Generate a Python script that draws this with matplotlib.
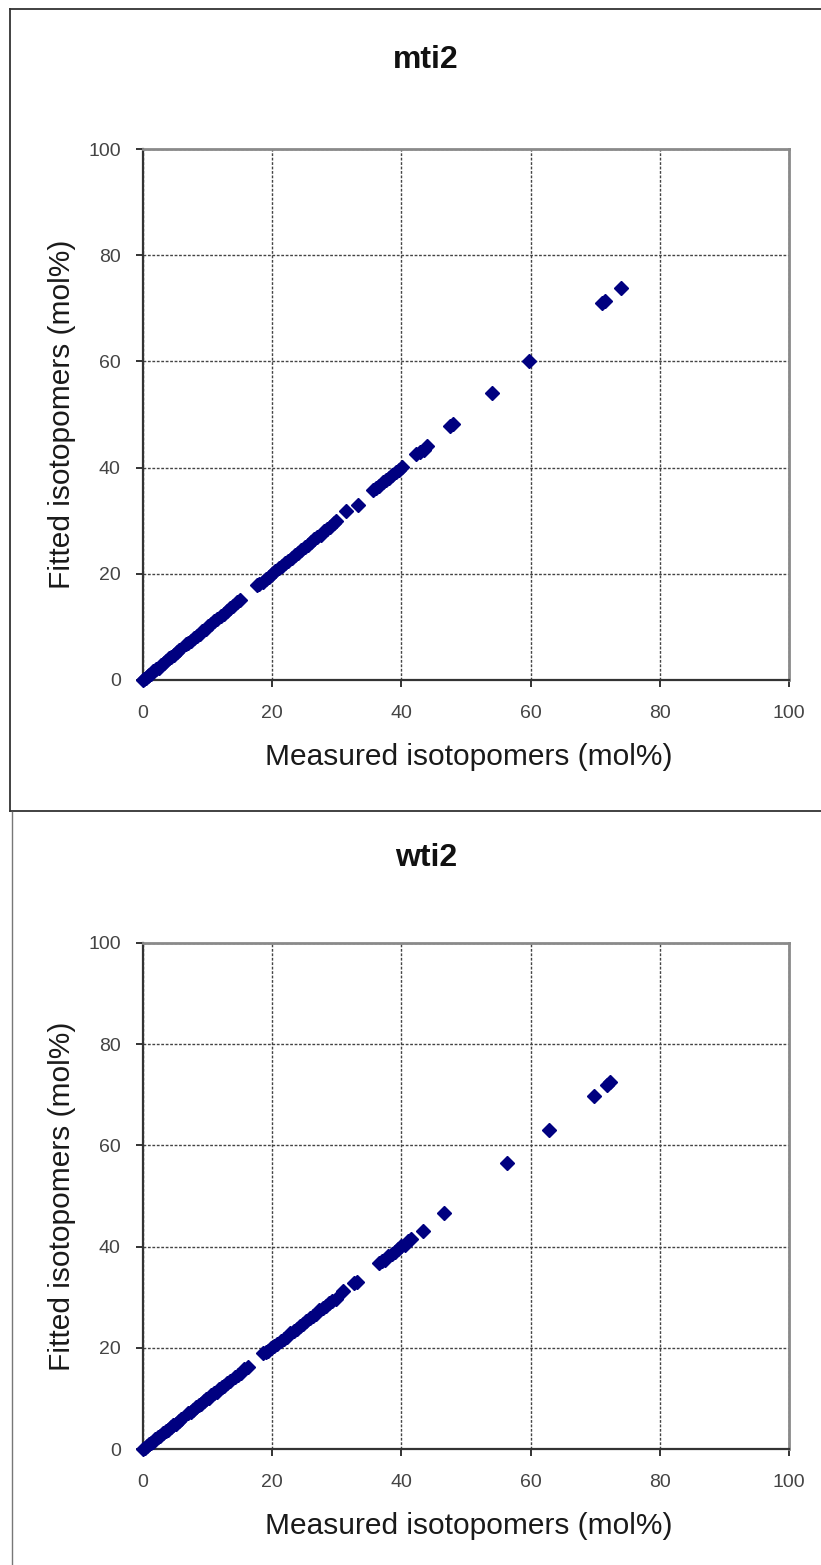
import matplotlib
matplotlib.use("Agg")
import matplotlib.pyplot as plt
from matplotlib.lines import Line2D

plt.rcParams['font.family'] = ['Liberation Sans', 'DejaVu Sans']

# ---- data: mti2 ----
mti2_measured = [0.0, 0.2, 0.4, 0.7, 1.0, 1.3, 1.6, 2.0, 2.4, 2.8, 3.2, 3.6, 4.0, 4.4, 4.8, 5.2, 5.5,
                 6.6, 7.0, 7.4, 7.9, 8.3, 8.8, 9.2, 9.7, 10.1, 10.6, 11.0, 11.5, 12.0, 12.5, 13.0, 13.5, 14.0, 14.5, 15.0,
                 17.6, 18.0, 18.5, 19.0, 19.5, 20.0, 20.5, 21.0, 21.5, 22.0, 22.5, 23.0, 23.5, 24.0, 24.5, 25.0,
                 25.5, 26.0, 26.5, 27.0, 27.5, 28.0, 28.5, 29.0, 29.5, 29.9,
                 31.5, 33.3,
                 35.6, 36.1, 36.6, 37.1, 37.6, 38.1, 38.6, 39.1, 39.6, 40.1,
                 42.3, 42.9, 43.5, 44.0,
                 47.6, 48.0, 54.0, 59.8, 71.0, 71.5, 74.0]
mti2_fitted = [0.0, 0.1, 0.4, 0.8, 1.0, 1.2, 1.7, 2.0, 2.3, 2.9, 3.2, 3.5, 4.1, 4.4, 4.7, 5.2, 5.6,
               6.7, 7.0, 7.3, 8.0, 8.3, 8.7, 9.3, 9.6, 10.2, 10.5, 11.1, 11.4, 12.1, 12.4, 13.0, 13.6, 13.9, 14.6, 15.0,
               17.8, 18.1, 18.4, 19.1, 19.4, 20.0, 20.6, 21.0, 21.4, 22.1, 22.5, 22.9, 23.6, 24.0, 24.4, 25.1,
               25.5, 25.9, 26.6, 27.0, 27.4, 28.1, 28.5, 28.9, 29.6, 30.0,
               31.8, 33.0,
               35.8, 36.2, 36.5, 37.2, 37.6, 38.0, 38.7, 39.1, 39.5, 40.1,
               42.5, 42.9, 43.4, 44.1,
               47.9, 48.3, 54.0, 60.0, 71.0, 71.4, 73.8]

# ---- data: wti2 ----
wti2_measured = [0.0, 0.3, 0.6, 0.9, 1.2, 1.5, 1.9, 2.3, 2.7, 3.1, 3.5, 3.9, 4.3, 4.7, 5.1, 5.5, 5.9,
                 7.0, 7.4, 7.8, 8.2, 8.6, 9.0, 9.4, 9.8, 10.2, 10.6, 11.0, 11.4, 11.8, 12.2, 12.6, 13.0, 13.4,
                 14.2, 14.7, 15.2, 15.7, 16.2,
                 18.6, 19.0, 19.4, 19.8, 20.3, 20.8, 21.3, 21.8, 22.3, 22.8, 23.3, 23.8, 24.3, 24.8, 25.3,
                 25.8, 26.3, 26.8, 27.3, 27.8, 28.3, 28.8, 29.3, 29.8,
                 31.0, 32.6, 33.2,
                 36.5, 37.0, 37.5, 38.0, 38.5, 39.0, 39.5, 40.0, 40.5, 41.0, 41.5,
                 43.3, 46.6, 56.4, 62.9, 69.8, 71.9, 72.3]
wti2_fitted = [0.0, 0.2, 0.6, 1.0, 1.2, 1.4, 2.0, 2.3, 2.6, 3.2, 3.5, 3.8, 4.4, 4.7, 5.0, 5.6, 5.9,
               7.1, 7.4, 7.7, 8.3, 8.6, 8.9, 9.5, 9.8, 10.1, 10.7, 11.0, 11.3, 11.9, 12.2, 12.5, 13.1, 13.4,
               14.3, 14.7, 15.1, 15.8, 16.2,
               19.0, 19.1, 19.3, 19.9, 20.3, 20.7, 21.4, 21.8, 22.2, 22.9, 23.3, 23.7, 24.4, 24.8, 25.2,
               25.9, 26.3, 26.7, 27.4, 27.8, 28.2, 28.9, 29.3, 29.7,
               31.2, 32.8, 33.0,
               36.7, 37.1, 37.4, 38.1, 38.5, 38.9, 39.6, 40.1, 40.4, 41.1, 41.5,
               43.0, 46.6, 56.6, 63.0, 69.8, 72.0, 72.6]

ticks = [0, 20, 40, 60, 80, 100]
tick_labels = ['0', '20', '40', '60', '80', '100']
x_label = 'Measured isotopomers (mol%)'
y_label = 'Fitted isotopomers (mol%)'

W, H = 821, 1565
fig = plt.figure(figsize=(W / 100, H / 100), dpi=100)
fig.patch.set_facecolor('white')

def fx(px):
    return px / W

def fy(py):
    return 1 - py / H

marker_color = '#000080'

def make_panel(x0, y_top, x1, y_bot, xs, ys, title, title_y):
    ax = fig.add_axes([fx(x0), fy(y_bot), fx(x1) - fx(x0), (y_bot - y_top) / H])
    ax.plot(xs, ys, linestyle='none', marker='D', markersize=7.6, markeredgewidth=1.0,
            color=marker_color, markeredgecolor=marker_color, clip_on=False, zorder=5)
    ax.set_xlim(0, 100)
    ax.set_ylim(0, 100)
    ax.set_xticks(ticks)
    ax.set_yticks(ticks)
    ax.set_xticklabels(tick_labels)
    ax.set_yticklabels(tick_labels)
    ax.grid(True, color='#444444', linestyle=(0, (2.0, 1.2)), linewidth=1.0)
    ax.set_axisbelow(True)
    for side in ['left', 'bottom']:
        ax.spines[side].set_color('#333333')
        ax.spines[side].set_linewidth(1.6)
    for side in ['top', 'right']:
        ax.spines[side].set_color('#8a8a8a')
        ax.spines[side].set_linewidth(2.0)
    ax.tick_params(axis='both', direction='out', length=5, width=1.4, color='#333333',
                   labelsize=14, labelcolor='#444444')
    ax.tick_params(axis='x', pad=13)
    ax.tick_params(axis='y', pad=11)
    xc = (x0 + x1) / 2 + 3
    fig.text(fx(426), fy(title_y), title, ha='center', va='center',
             fontsize=23, fontweight='bold', color='#111111')
    fig.text(fx(xc), fy(y_bot + 77), x_label, ha='center', va='center',
             fontsize=21.5, color='#1a1a1a')
    fig.text(fx(62), fy((y_top + y_bot) / 2), y_label, ha='center', va='center',
             rotation=90, fontsize=21.5, color='#1a1a1a')
    return ax

make_panel(143, 149, 789, 680, mti2_measured, mti2_fitted, 'mti2', 60)
make_panel(143, 943, 789, 1449, wti2_measured, wti2_fitted, 'wti2', 858)

# panel frames
frame_color = '#333333'
fig.add_artist(Line2D([fx(10), fx(10)], [fy(9), fy(811)], color=frame_color, linewidth=1.3))
fig.add_artist(Line2D([fx(10), 1], [fy(9), fy(9)], color=frame_color, linewidth=1.3))
fig.add_artist(Line2D([fx(10), 1], [fy(811), fy(811)], color=frame_color, linewidth=1.3))
fig.add_artist(Line2D([fx(12), fx(12)], [fy(812), 0], color='#777777', linewidth=1.0))

fig.savefig('out.png', dpi=100, facecolor='white')
